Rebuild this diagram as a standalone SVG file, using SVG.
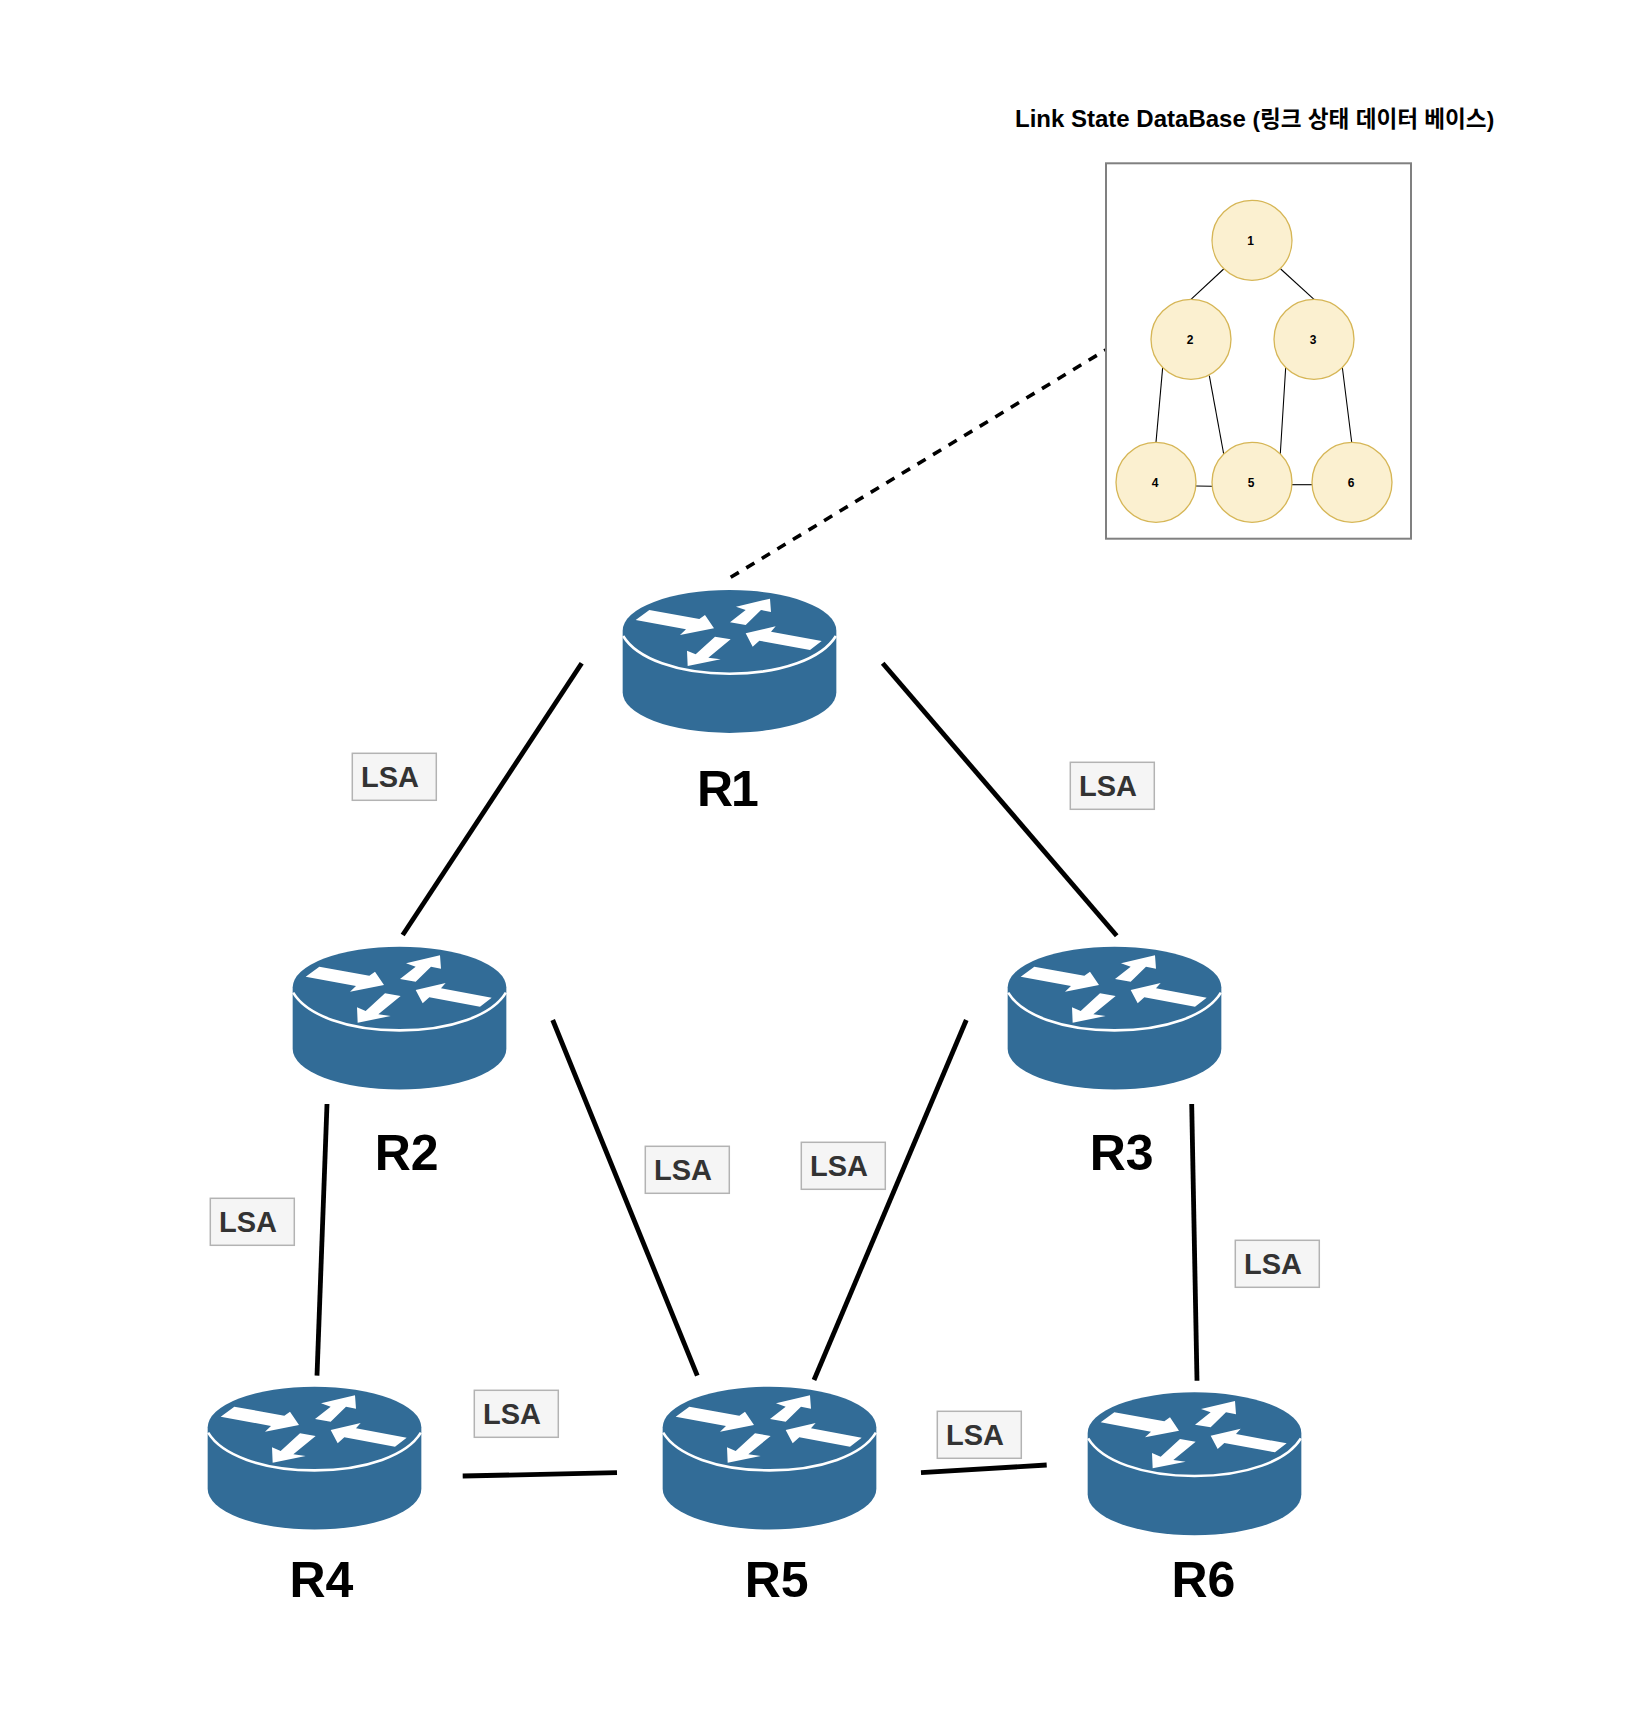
<svg xmlns="http://www.w3.org/2000/svg" width="1630" height="1736" viewBox="0 0 1630 1736">
<style>
text{font-family:"Liberation Sans","Noto Sans CJK KR",sans-serif;font-weight:bold;fill:#000}
.link{stroke:#000;stroke-width:4.8;fill:none}
.edge{stroke:#000;stroke-width:1.1;fill:none}
.dash{stroke:#000;stroke-width:3.6;stroke-dasharray:9.5 8.7;fill:none}
.rlabel{font-size:50px}
.lsa rect{fill:#f5f5f5;stroke:#b3b3b3;stroke-width:1.5}
.lsa text{font-size:29px;fill:#333}
.dbn circle{fill:#fbf0d0;stroke:#d6b656;stroke-width:1.3}
.dbn text{font-size:12px;text-anchor:middle}
</style>
<defs>
<g id="router">
<path fill="#326c97" d="M0 40.7V102.2A106.83 40.7 0 0 0 213.67 102.2V40.7A106.83 40.7 0 0 0 0 40.7Z"/>
<path fill="none" stroke="#fff" stroke-width="2.6" d="M0.5 46C14 68.5 55 83.7 106.83 83.7S199.6 68.5 213.2 46"/>
<path fill="#fff" d="M13 30L26.67 20L76.67 29L82.33 25L91.33 38.33L57.33 45L63.33 39.33Z"/>
<path fill="#fff" d="M107.33 32.33L123 20L113.33 16.67L147.33 8.67L148.33 22L138.33 20L123 35Z"/>
<path fill="#fff" d="M199 51L187.33 60L136.67 50.67L130 56.67L123 43.33L153 36.33L148.33 41.67Z"/>
<path fill="#fff" d="M108 49.33L85.67 67.67L98 69.33L65 76L64.33 60.67L73 64.33L92.33 46.67Z"/>
</g>
</defs>
<rect width="1630" height="1736" fill="#fff"/>
<g id="connectors">
<line class="link" x1="581.7" y1="663.3" x2="402.7" y2="935"/>
<line class="link" x1="882.7" y1="663.3" x2="1116.7" y2="935.7"/>
<line class="link" x1="552.7" y1="1020" x2="697.3" y2="1375.7"/>
<line class="link" x1="966.3" y1="1020" x2="814" y2="1380"/>
<line class="link" x1="327" y1="1104" x2="317" y2="1375.7"/>
<line class="link" x1="1191.7" y1="1104" x2="1197" y2="1380.7"/>
<line class="link" x1="462.7" y1="1476" x2="617" y2="1472.7"/>
<line class="link" x1="921" y1="1472.7" x2="1046.7" y2="1465"/>
<line class="dash" x1="730.7" y1="577.3" x2="1105.7" y2="350"/>
</g>
<g id="db-panel">
<text x="1015" y="126.5" font-size="24">Link State DataBase <tspan font-size="22.6">(링크 상태 데이터 베이스)</tspan></text>
<rect x="1106" y="163.3" width="305" height="375.4" fill="#fff" stroke="#808080" stroke-width="2"/>
</g>
<g id="db-edges">
<line class="edge" x1="1223.7" y1="269" x2="1191" y2="299.3"/>
<line class="edge" x1="1280.7" y1="269" x2="1314" y2="299.3"/>
<line class="edge" x1="1162.7" y1="367.3" x2="1156" y2="442.3"/>
<line class="edge" x1="1209.3" y1="375.7" x2="1223.7" y2="454"/>
<line class="edge" x1="1285.7" y1="367.3" x2="1280.3" y2="454"/>
<line class="edge" x1="1342.3" y1="367.3" x2="1351.7" y2="442.3"/>
<line class="edge" x1="1196" y1="486" x2="1212" y2="486.3"/>
<line class="edge" x1="1292" y1="484.7" x2="1312" y2="484.7"/>
</g>
<g id="db-1" class="dbn"><circle cx="1252" cy="240.3" r="40"/><text x="1250.7" y="245">1</text></g>
<g id="db-2" class="dbn"><circle cx="1191" cy="339.3" r="40"/><text x="1190" y="344">2</text></g>
<g id="db-3" class="dbn"><circle cx="1314" cy="339.3" r="40"/><text x="1313" y="344">3</text></g>
<g id="db-4" class="dbn"><circle cx="1156" cy="482.3" r="40"/><text x="1155" y="487">4</text></g>
<g id="db-5" class="dbn"><circle cx="1252" cy="482.3" r="40"/><text x="1251" y="487">5</text></g>
<g id="db-6" class="dbn"><circle cx="1352" cy="482.3" r="40"/><text x="1351" y="487">6</text></g>
<g id="R1"><use href="#router" x="622.67" y="590"/><text class="rlabel" x="697" y="805.7" letter-spacing="-2">R1</text></g>
<g id="R2"><use href="#router" x="292.67" y="946.67"/><text class="rlabel" x="374.7" y="1170">R2</text></g>
<g id="R3"><use href="#router" x="1007.67" y="946.67"/><text class="rlabel" x="1089.7" y="1170">R3</text></g>
<g id="R4"><use href="#router" x="207.67" y="1386.67"/><text class="rlabel" x="289.5" y="1596.7">R4</text></g>
<g id="R5"><use href="#router" x="662.67" y="1386.67"/><text class="rlabel" x="744.7" y="1596.7">R5</text></g>
<g id="R6"><use href="#router" x="1087.67" y="1392.33"/><text class="rlabel" x="1171.4" y="1596.7">R6</text></g>
<g id="lsa-1" class="lsa"><rect x="352.3" y="753.3" width="84" height="47"/><text x="361" y="786.5">LSA</text></g>
<g id="lsa-2" class="lsa"><rect x="1070.3" y="762.3" width="84" height="47"/><text x="1079" y="795.5">LSA</text></g>
<g id="lsa-3" class="lsa"><rect x="645.3" y="1146.3" width="84" height="47"/><text x="654" y="1179.5">LSA</text></g>
<g id="lsa-4" class="lsa"><rect x="801.3" y="1142.3" width="84" height="47"/><text x="810" y="1175.5">LSA</text></g>
<g id="lsa-5" class="lsa"><rect x="210.3" y="1198.3" width="84" height="47"/><text x="219" y="1231.5">LSA</text></g>
<g id="lsa-6" class="lsa"><rect x="474.3" y="1390.3" width="84" height="47"/><text x="483" y="1423.5">LSA</text></g>
<g id="lsa-7" class="lsa"><rect x="937.3" y="1411.3" width="84" height="47"/><text x="946" y="1444.5">LSA</text></g>
<g id="lsa-8" class="lsa"><rect x="1235.3" y="1240.3" width="84" height="47"/><text x="1244" y="1273.5">LSA</text></g>
</svg>
